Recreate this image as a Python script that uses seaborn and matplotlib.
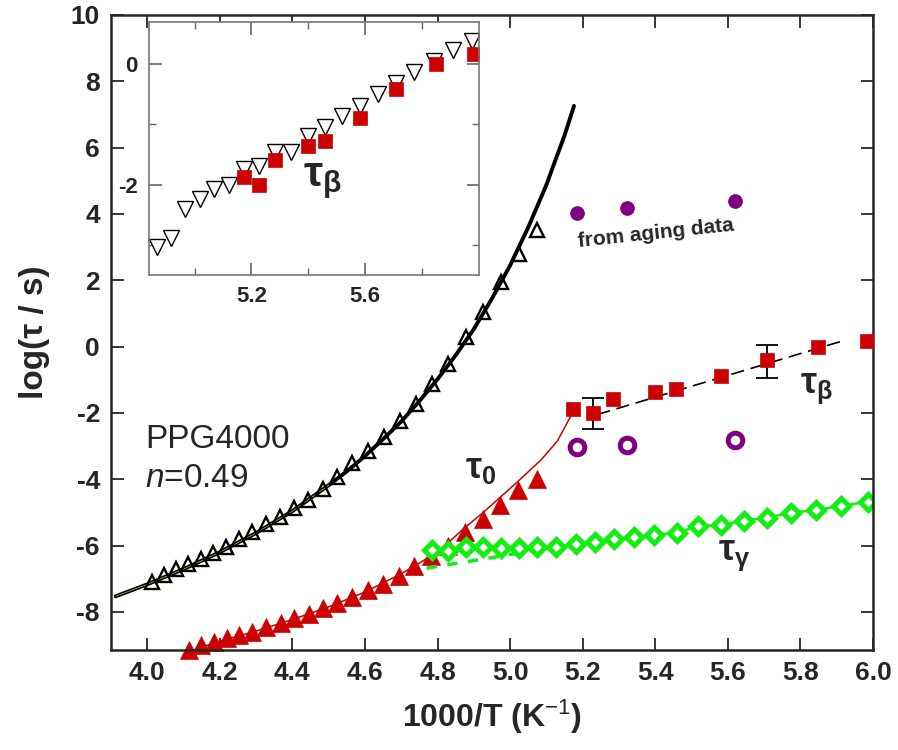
import seaborn as sns
import matplotlib.pyplot as plt

# =========================
# DATA
# =========================
# tau_alpha, open triangles
alpha_x = [4.014, 4.046, 4.078, 4.112, 4.147, 4.182, 4.218, 4.253, 4.289, 4.326, 4.365, 4.404, 4.443,
           4.484, 4.524, 4.565, 4.609, 4.651, 4.696, 4.740, 4.786, 4.829, 4.878, 4.926, 4.976, 5.025, 5.075]
alpha_y = [-7.09, -6.89, -6.72, -6.57, -6.42, -6.22, -6.04, -5.81, -5.58, -5.35, -5.13, -4.88, -4.63,
           -4.28, -3.94, -3.51, -3.14, -2.72, -2.24, -1.72, -1.14, -0.51, 0.29, 1.04, 1.95, 2.80, 3.52]

# VFT fit through tau_alpha
vft_x = [3.913, 4.0, 4.1, 4.2, 4.3, 4.4, 4.5, 4.55, 4.6, 4.65, 4.7, 4.75, 4.8, 4.85, 4.9, 4.95,
         5.0, 5.05, 5.1, 5.125, 5.15, 5.176]
vft_y = [-7.53, -7.17, -6.71, -6.20, -5.62, -4.96, -4.18, -3.76, -3.30, -2.79, -2.26, -1.64, -0.98,
         -0.26, 0.53, 1.45, 2.45, 3.60, 4.88, 5.63, 6.37, 7.26]

# tau_0, filled red triangles
tau0_x = [4.115, 4.147, 4.184, 4.219, 4.253, 4.289, 4.326, 4.368, 4.404, 4.446, 4.484, 4.524,
          4.565, 4.607, 4.650, 4.694, 4.735, 4.781, 4.829, 4.876, 4.924, 4.972, 5.021, 5.074]
tau0_y = [-9.15, -9.00, -8.90, -8.80, -8.70, -8.60, -8.46, -8.34, -8.19, -8.06, -7.89, -7.74,
          -7.56, -7.34, -7.16, -6.92, -6.62, -6.33, -6.02, -5.60, -5.21, -4.77, -4.31, -3.98]
tau0_fit_x = [4.10, 4.2, 4.3, 4.4, 4.5, 4.6, 4.7, 4.8, 4.873, 4.924, 4.972, 5.02, 5.085, 5.13, 5.172]
tau0_fit_y = [-9.25, -8.88, -8.58, -8.23, -7.85, -7.40, -6.85, -6.20, -5.48, -5.02, -4.55, -4.08,
              -3.42, -2.85, -2.0]

# tau_beta, red squares
beta_x = [5.174, 5.227, 5.284, 5.399, 5.457, 5.580, 5.709, 5.849, 5.984]
beta_y = [-1.88, -2.00, -1.59, -1.36, -1.27, -0.90, -0.41, 0.00, 0.16]
beta_fit_x = [5.24, 5.925]
beta_fit_y = [-2.05, 0.20]
err_x = [5.227, 5.709]
err_y = [-2.02, -0.44]
err_size = [0.48, 0.50]

# tau_gamma, green diamonds
gamma_x = [4.786, 4.829, 4.878, 4.926, 4.976, 5.025, 5.075, 5.126, 5.181, 5.233, 5.287, 5.342,
           5.397, 5.461, 5.518, 5.581, 5.645, 5.707, 5.774, 5.843, 5.911, 5.985]
gamma_y = [-6.12, -6.15, -6.05, -6.05, -6.08, -6.08, -6.05, -6.04, -5.96, -5.90, -5.81, -5.75,
           -5.68, -5.61, -5.41, -5.38, -5.25, -5.16, -5.01, -4.93, -4.81, -4.68]
gamma_fit_x = [4.77, 4.93, 5.08]
gamma_fit_y = [-6.68, -6.40, -6.12]

# from aging data
aging_x = [5.184, 5.321, 5.620]
aging_top_y = [4.04, 4.17, 4.39]
aging_low_y = [-3.02, -2.97, -2.82]

# inset: tau_beta from two methods
inset_tri_x = [4.867, 4.917, 4.966, 5.019, 5.069, 5.120, 5.173, 5.226, 5.284, 5.340, 5.399, 5.457,
               5.519, 5.580, 5.644, 5.709, 5.773, 5.843, 5.910, 5.977]
inset_tri_y = [-3.03, -2.88, -2.41, -2.24, -2.08, -2.01, -1.75, -1.70, -1.46, -1.46, -1.19, -1.05,
               -0.86, -0.69, -0.50, -0.31, -0.14, 0.05, 0.23, 0.38]

xticks = [4.0, 4.2, 4.4, 4.6, 4.8, 5.0, 5.2, 5.4, 5.6, 5.8, 6.0]
xtick_labels = ['4.0', '4.2', '4.4', '4.6', '4.8', '5.0', '5.2', '5.4', '5.6', '5.8', '6.0']
yticks = [-8, -6, -4, -2, 0, 2, 4, 6, 8, 10]
ytick_labels = ['-8', '-6', '-4', '-2', '0', '2', '4', '6', '8', '10']

RED = '#CC0000'
GREEN = '#11EE11'
PURPLE = '#800080'

# =========================
# STYLE
# =========================
sns.set_style("ticks")
plt.rcParams['font.family'] = ['Liberation Sans', 'DejaVu Sans']
plt.rcParams['mathtext.fontset'] = 'custom'
plt.rcParams['mathtext.rm'] = 'Liberation Sans'
plt.rcParams['mathtext.it'] = 'Liberation Sans:italic'
plt.rcParams['mathtext.bf'] = 'Liberation Sans:bold'

fig = plt.figure(figsize=(8.98, 7.5), dpi=100)
ax = fig.add_axes([111 / 898, 100 / 750, 762 / 898, 635 / 750])

# =========================
# MAIN PLOT
# =========================
sns.lineplot(x=vft_x, y=vft_y, ax=ax, color='black', lw=2.8, estimator=None, sort=False)
sns.lineplot(x=vft_x[:7], y=vft_y[:7], ax=ax, color='#C8C000', lw=0.5, estimator=None, sort=False)
sns.lineplot(x=alpha_x, y=alpha_y, ax=ax, color='black', linestyle='', marker='^', markersize=10,
             markerfacecolor='none', markeredgecolor='black', markeredgewidth=1.7, estimator=None)

sns.lineplot(x=tau0_fit_x, y=tau0_fit_y, ax=ax, color=RED, lw=1.1, estimator=None, sort=False)
sns.lineplot(x=tau0_x, y=tau0_y, ax=ax, color=RED, linestyle='', marker='^', markersize=13,
             markerfacecolor=RED, markeredgecolor=RED, markeredgewidth=0.5, estimator=None,
             clip_on=False)

sns.lineplot(x=gamma_fit_x, y=gamma_fit_y, ax=ax, color=GREEN, lw=2.5, dashes=False,
             linestyle=(0, (3, 3)), estimator=None, sort=False)
sns.lineplot(x=gamma_x, y=gamma_y, ax=ax, color=GREEN, lw=1.8, marker='D', markersize=8.5,
             markerfacecolor='white', markeredgecolor=GREEN, markeredgewidth=3.6, estimator=None)

sns.lineplot(x=beta_fit_x, y=beta_fit_y, ax=ax, color='black', lw=1.2, linestyle=(0, (8, 4)),
             estimator=None, sort=False)
ax.errorbar(err_x, err_y, yerr=err_size, fmt='none', ecolor='black', elinewidth=1.3,
            capsize=8, capthick=1.3, zorder=3)
sns.lineplot(x=beta_x, y=beta_y, ax=ax, color=RED, linestyle='', marker='s', markersize=10,
             markerfacecolor=RED, markeredgecolor=RED, markeredgewidth=0.5, estimator=None,
             zorder=4)

sns.lineplot(x=aging_x, y=aging_top_y, ax=ax, color=PURPLE, linestyle='', marker='o', markersize=10,
             markerfacecolor=PURPLE, markeredgecolor=PURPLE, markeredgewidth=0.5, estimator=None)
sns.lineplot(x=aging_x, y=aging_low_y, ax=ax, color=PURPLE, linestyle='', marker='o', markersize=10.5,
             markerfacecolor='white', markeredgecolor=PURPLE, markeredgewidth=3.6, estimator=None)

ax.set_xlim(3.9, 6.0)
ax.set_ylim(-9.15, 10)
ax.set_xticks(xticks, xtick_labels, fontweight='bold')
ax.set_yticks(yticks, ytick_labels, fontweight='bold')
ax.tick_params(direction='in', length=9, width=1.3, top=True, right=True, labelsize=19, pad=8)
for s in ax.spines.values():
    s.set_linewidth(1.8)
    s.set_visible(True)

ax.set_xlabel('1000/T (K$^{-1}$)', fontsize=23, fontweight='bold')
ax.set_ylabel('log(τ / s)', fontsize=24, fontweight='bold')
ax.xaxis.set_label_coords(0.5, -0.075)
ax.yaxis.set_label_coords(-0.08, 0.5)

ax.text(3.994, -3.06, 'PPG4000', fontsize=24, ha='left', va='baseline')
ax.text(3.994, -4.23, '$\\mathit{n}$=0.49', fontsize=24, ha='left', va='baseline')
ax.text(4.876, -3.97, '$\\mathbf{τ}_\\mathbf{0}$', fontsize=26, ha='left', va='baseline')
ax.text(5.800, -1.41, '$\\mathbf{τ}_\\mathbf{β}$', fontsize=26, ha='left', va='baseline')
ax.text(5.573, -6.44, '$\\mathbf{τ}_\\mathbf{γ}$', fontsize=26, ha='left', va='baseline')
ax.text(5.402, 3.40, 'from aging data', fontsize=15, fontweight='bold', ha='center',
        va='center', rotation=6)

# =========================
# INSET
# =========================
ins = fig.add_axes([149 / 898, 475 / 750, 330 / 898, 253.3 / 750])
sns.lineplot(x=inset_tri_x, y=inset_tri_y, ax=ins, color='black', linestyle='', marker='v',
             markersize=11.5, markerfacecolor='white', markeredgecolor='black', markeredgewidth=1.0,
             estimator=None)
sns.lineplot(x=beta_x, y=beta_y, ax=ins, color=RED, linestyle='', marker='s', markersize=10,
             markerfacecolor=RED, markeredgecolor=RED, markeredgewidth=0.5, estimator=None)
ins.set_xlim(4.84, 6.0)
ins.set_ylim(-3.5, 0.7)
ins.set_xticks([5.2, 5.6], ['5.2', '5.6'], fontweight='bold')
ins.set_xticks([5.0, 5.4, 5.8], minor=True)
ins.set_yticks([-2, 0], ['-2', '0'], fontweight='bold')
ins.set_yticks([-3, -1], minor=True)
ins.tick_params(which='both', direction='in', top=True, right=True, color='#666666',
                labelsize=16, pad=8)
ins.tick_params(which='major', length=9, width=1.2)
ins.tick_params(which='minor', length=5, width=1.0)
for s in ins.spines.values():
    s.set_color('#777777')
    s.set_linewidth(1.2)
    s.set_visible(True)
ins.set_xlabel('')
ins.set_ylabel('')
ins.text(5.38, -2.03, '$\\mathbf{τ}_\\mathbf{β}$', fontsize=31, ha='left', va='baseline')

fig.savefig('out.png', dpi=100)
